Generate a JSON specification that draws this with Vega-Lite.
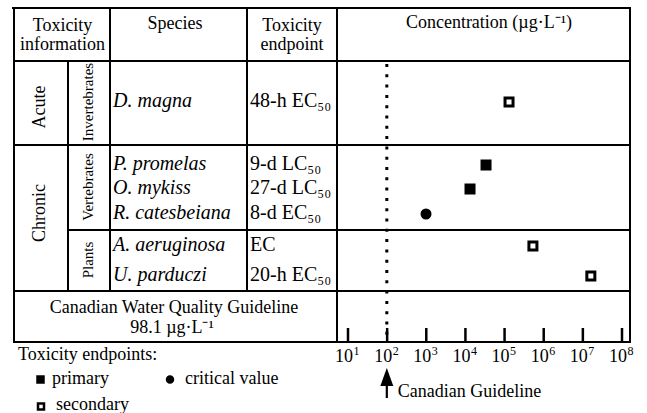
{
  "$schema": "https://vega.github.io/schema/vega-lite/v6.json",
  "width": 647,
  "height": 413,
  "padding": 0,
  "autosize": "none",
  "config": {"view": {"stroke": null}, "font": "Liberation Serif", "text": {"color": "#000", "font": "Liberation Serif"}},
  "datasets": {
    "grid": [
      {"x": 12, "x2": 631, "y": 8, "y2": 8},
      {"x": 14, "x2": 630, "y": 61, "y2": 61},
      {"x": 14, "x2": 630, "y": 145, "y2": 145},
      {"x": 68, "x2": 630, "y": 230, "y2": 230},
      {"x": 14, "x2": 630, "y": 291, "y2": 291},
      {"x": 13, "x2": 631, "y": 342, "y2": 342},
      {"x": 14, "x2": 14, "y": 7, "y2": 343},
      {"x": 68, "x2": 68, "y": 61, "y2": 291},
      {"x": 110, "x2": 110, "y": 7, "y2": 291},
      {"x": 247, "x2": 247, "y": 7, "y2": 291},
      {"x": 337, "x2": 337, "y": 7, "y2": 343},
      {"x": 630, "x2": 630, "y": 7, "y2": 343}
    ],
    "headers": [
      {"text": "Toxicity", "x": 62.5, "y": 31},
      {"text": "information", "x": 62.5, "y": 50},
      {"text": "Species", "x": 175, "y": 29},
      {"text": "Toxicity", "x": 292, "y": 31},
      {"text": "endpoint", "x": 292, "y": 50},
      {"text": "Concentration (µg·L⁻¹)", "x": 489, "y": 28},
      {"text": "Canadian Water Quality Guideline", "x": 174, "y": 313},
      {"text": "98.1 µg·L⁻¹", "x": 172, "y": 333}
    ],
    "groups": [
      {"text": "Acute", "x": 40, "y": 107},
      {"text": "Chronic", "x": 40, "y": 213}
    ],
    "subgroups": [
      {"text": "Invertebrates", "x": 88, "y": 102},
      {"text": "Vertebrates", "x": 88, "y": 187},
      {"text": "Plants", "x": 88, "y": 260}
    ],
    "tox": [
      {"species": "D. magna", "endpoint": "48-h EC₅₀", "conc": 130000, "type": "secondary", "y": 102},
      {"species": "P. promelas", "endpoint": "9-d LC₅₀", "conc": 33600, "type": "primary", "y": 165},
      {"species": "O. mykiss", "endpoint": "27-d LC₅₀", "conc": 13100, "type": "primary", "y": 189},
      {"species": "R. catesbeiana", "endpoint": "8-d EC₅₀", "conc": 984, "type": "critical value", "y": 214},
      {"species": "A. aeruginosa", "endpoint": "EC", "conc": 530000, "type": "secondary", "y": 246},
      {"species": "U. parduczi", "endpoint": "20-h EC₅₀", "conc": 16000000, "type": "secondary", "y": 276}
    ],
    "ticks": [
      {"v": 10, "base": "10", "exp": "1"},
      {"v": 100, "base": "10", "exp": "2"},
      {"v": 1000, "base": "10", "exp": "3"},
      {"v": 10000, "base": "10", "exp": "4"},
      {"v": 100000, "base": "10", "exp": "5"},
      {"v": 1000000, "base": "10", "exp": "6"},
      {"v": 10000000, "base": "10", "exp": "7"},
      {"v": 100000000, "base": "10", "exp": "8"}
    ],
    "legendText": [
      {"text": "Toxicity endpoints:", "x": 18, "y": 360},
      {"text": "primary", "x": 52, "y": 384},
      {"text": "critical value", "x": 185, "y": 384},
      {"text": "secondary", "x": 56, "y": 410}
    ],
    "legendMarks": [
      {"type": "primary", "x": 40.5, "y": 379.5},
      {"type": "critical value", "x": 170, "y": 379.5},
      {"type": "secondary", "x": 41, "y": 406.5}
    ]
  },
  "resolve": {"scale": {"x": "independent"}},
  "layer": [
    {
      "data": {"name": "grid"},
      "mark": {"type": "rule", "color": "#000", "strokeWidth": 2},
      "encoding": {
        "x": {"field": "x", "type": "quantitative", "scale": {"domain": [0, 647], "nice": false, "zero": false}, "axis": null},
        "x2": {"field": "x2"},
        "y": {"field": "y", "type": "quantitative", "scale": {"domain": [0, 413], "reverse": true, "nice": false, "zero": false}, "axis": null},
        "y2": {"field": "y2"}
      }
    },
    {
      "data": {"name": "headers"},
      "mark": {"type": "text", "font": "Liberation Serif", "fontSize": 18, "align": "center", "baseline": "alphabetic"},
      "encoding": {
        "x": {"field": "x", "type": "quantitative", "scale": {"domain": [0, 647], "nice": false, "zero": false}, "axis": null},
        "y": {"field": "y", "type": "quantitative", "scale": {"domain": [0, 413], "reverse": true, "nice": false, "zero": false}, "axis": null},
        "text": {"field": "text"}
      }
    },
    {
      "data": {"name": "groups"},
      "mark": {"type": "text", "font": "Liberation Serif", "fontSize": 18, "align": "center", "baseline": "middle", "angle": 270},
      "encoding": {
        "x": {"field": "x", "type": "quantitative", "scale": {"domain": [0, 647], "nice": false, "zero": false}, "axis": null},
        "y": {"field": "y", "type": "quantitative", "scale": {"domain": [0, 413], "reverse": true, "nice": false, "zero": false}, "axis": null},
        "text": {"field": "text"}
      }
    },
    {
      "data": {"name": "subgroups"},
      "mark": {"type": "text", "font": "Liberation Serif", "fontSize": 15, "align": "center", "baseline": "middle", "angle": 270},
      "encoding": {
        "x": {"field": "x", "type": "quantitative", "scale": {"domain": [0, 647], "nice": false, "zero": false}, "axis": null},
        "y": {"field": "y", "type": "quantitative", "scale": {"domain": [0, 413], "reverse": true, "nice": false, "zero": false}, "axis": null},
        "text": {"field": "text"}
      }
    },
    {
      "data": {"name": "tox"},
      "mark": {"type": "text", "font": "Liberation Serif", "fontSize": 20, "fontStyle": "italic", "align": "left", "baseline": "alphabetic", "dy": 5},
      "encoding": {
        "x": {"datum": 113, "type": "quantitative", "scale": {"domain": [0, 647], "nice": false, "zero": false}, "axis": null},
        "y": {"field": "y", "type": "quantitative", "scale": {"domain": [0, 413], "reverse": true, "nice": false, "zero": false}, "axis": null},
        "text": {"field": "species"}
      }
    },
    {
      "data": {"name": "tox"},
      "mark": {"type": "text", "font": "Liberation Serif", "fontSize": 20, "align": "left", "baseline": "alphabetic", "dy": 5},
      "encoding": {
        "x": {"datum": 250, "type": "quantitative", "scale": {"domain": [0, 647], "nice": false, "zero": false}, "axis": null},
        "y": {"field": "y", "type": "quantitative", "scale": {"domain": [0, 413], "reverse": true, "nice": false, "zero": false}, "axis": null},
        "text": {"field": "endpoint"}
      }
    },
    {
      "data": {"name": "legendText"},
      "mark": {"type": "text", "font": "Liberation Serif", "fontSize": 18, "align": "left", "baseline": "alphabetic"},
      "encoding": {
        "x": {"field": "x", "type": "quantitative", "scale": {"domain": [0, 647], "nice": false, "zero": false}, "axis": null},
        "y": {"field": "y", "type": "quantitative", "scale": {"domain": [0, 413], "reverse": true, "nice": false, "zero": false}, "axis": null},
        "text": {"field": "text"}
      }
    },
    {
      "data": {"name": "legendMarks"},
      "mark": {"type": "point", "filled": false, "size": 36, "strokeWidth": 2.5, "stroke": "#000", "opacity": 1},
      "encoding": {
        "x": {"field": "x", "type": "quantitative", "scale": {"domain": [0, 647], "nice": false, "zero": false}, "axis": null},
        "y": {"field": "y", "type": "quantitative", "scale": {"domain": [0, 413], "reverse": true, "nice": false, "zero": false}, "axis": null},
        "shape": {"field": "type", "type": "nominal", "scale": {"domain": ["primary", "secondary", "critical value"], "range": ["square", "square", "circle"]}, "legend": null},
        "fill": {"field": "type", "type": "nominal", "scale": {"domain": ["primary", "secondary", "critical value"], "range": ["#000", "#fff", "#000"]}, "legend": null}
      }
    },
    {
      "data": {"name": "tox"},
      "mark": {"type": "point", "filled": false, "strokeWidth": 3, "stroke": "#000", "opacity": 1},
      "encoding": {
        "x": {"field": "conc", "type": "quantitative", "scale": {"type": "log", "domain": [1.287e-8, 4.352e8], "nice": false}, "axis": null},
        "y": {"field": "y", "type": "quantitative", "scale": {"domain": [0, 413], "reverse": true, "nice": false, "zero": false}, "axis": null},
        "shape": {"field": "type", "type": "nominal", "scale": {"domain": ["primary", "secondary", "critical value"], "range": ["square", "square", "circle"]}, "legend": null},
        "fill": {"field": "type", "type": "nominal", "scale": {"domain": ["primary", "secondary", "critical value"], "range": ["#000", "#fff", "#000"]}, "legend": null},
        "size": {"field": "type", "type": "nominal", "scale": {"domain": ["primary", "secondary", "critical value"], "range": [64, 64, 50]}, "legend": null}
      }
    },
    {
      "data": {"name": "ticks"},
      "mark": {"type": "rule", "color": "#000", "strokeWidth": 2.5},
      "encoding": {
        "x": {"field": "v", "type": "quantitative", "scale": {"type": "log", "domain": [1.287e-8, 4.352e8], "nice": false}, "axis": null},
        "y": {"datum": 328, "type": "quantitative", "scale": {"domain": [0, 413], "reverse": true, "nice": false, "zero": false}, "axis": null},
        "y2": {"datum": 342}
      }
    },
    {
      "data": {"name": "ticks"},
      "mark": {"type": "text", "font": "Liberation Serif", "fontSize": 18, "align": "right", "baseline": "alphabetic", "dx": 5},
      "encoding": {
        "x": {"field": "v", "type": "quantitative", "scale": {"type": "log", "domain": [1.287e-8, 4.352e8], "nice": false}, "axis": null},
        "y": {"datum": 362, "type": "quantitative", "scale": {"domain": [0, 413], "reverse": true, "nice": false, "zero": false}, "axis": null},
        "text": {"field": "base"}
      }
    },
    {
      "data": {"name": "ticks"},
      "mark": {"type": "text", "font": "Liberation Serif", "fontSize": 12, "align": "left", "baseline": "alphabetic", "dx": 5.5},
      "encoding": {
        "x": {"field": "v", "type": "quantitative", "scale": {"type": "log", "domain": [1.287e-8, 4.352e8], "nice": false}, "axis": null},
        "y": {"datum": 355, "type": "quantitative", "scale": {"domain": [0, 413], "reverse": true, "nice": false, "zero": false}, "axis": null},
        "text": {"field": "exp"}
      }
    },
    {
      "data": {"values": [{"guideline": 98.1, "label": "Canadian Guideline"}]},
      "layer": [
        {
          "mark": {"type": "rule", "color": "#000", "strokeWidth": 3, "strokeDash": [3, 7.3], "strokeCap": "butt"},
          "encoding": {
            "x": {"field": "guideline", "type": "quantitative", "scale": {"type": "log", "domain": [1.287e-8, 4.352e8], "nice": false}, "axis": null},
            "y": {"datum": 64, "type": "quantitative", "scale": {"domain": [0, 413], "reverse": true, "nice": false, "zero": false}, "axis": null},
            "y2": {"datum": 342}
          }
        },
        {
          "mark": {"type": "rule", "color": "#000", "strokeWidth": 2.2},
          "encoding": {
            "x": {"field": "guideline", "type": "quantitative", "scale": {"type": "log", "domain": [1.287e-8, 4.352e8], "nice": false}, "axis": null},
            "y": {"datum": 383, "type": "quantitative", "scale": {"domain": [0, 413], "reverse": true, "nice": false, "zero": false}, "axis": null},
            "y2": {"datum": 398}
          }
        },
        {
          "mark": {"type": "point", "shape": "M0,-1L0.72,1L-0.72,1Z", "size": 324, "filled": true, "fill": "#000", "stroke": null, "opacity": 1},
          "encoding": {
            "x": {"field": "guideline", "type": "quantitative", "scale": {"type": "log", "domain": [1.287e-8, 4.352e8], "nice": false}, "axis": null},
            "y": {"datum": 377, "type": "quantitative", "scale": {"domain": [0, 413], "reverse": true, "nice": false, "zero": false}, "axis": null}
          }
        },
        {
          "mark": {"type": "text", "font": "Liberation Serif", "fontSize": 18, "align": "left", "baseline": "alphabetic", "dx": 11},
          "encoding": {
            "x": {"field": "guideline", "type": "quantitative", "scale": {"type": "log", "domain": [1.287e-8, 4.352e8], "nice": false}, "axis": null},
            "y": {"datum": 397, "type": "quantitative", "scale": {"domain": [0, 413], "reverse": true, "nice": false, "zero": false}, "axis": null},
            "text": {"field": "label"}
          }
        }
      ]
    }
  ]
}
